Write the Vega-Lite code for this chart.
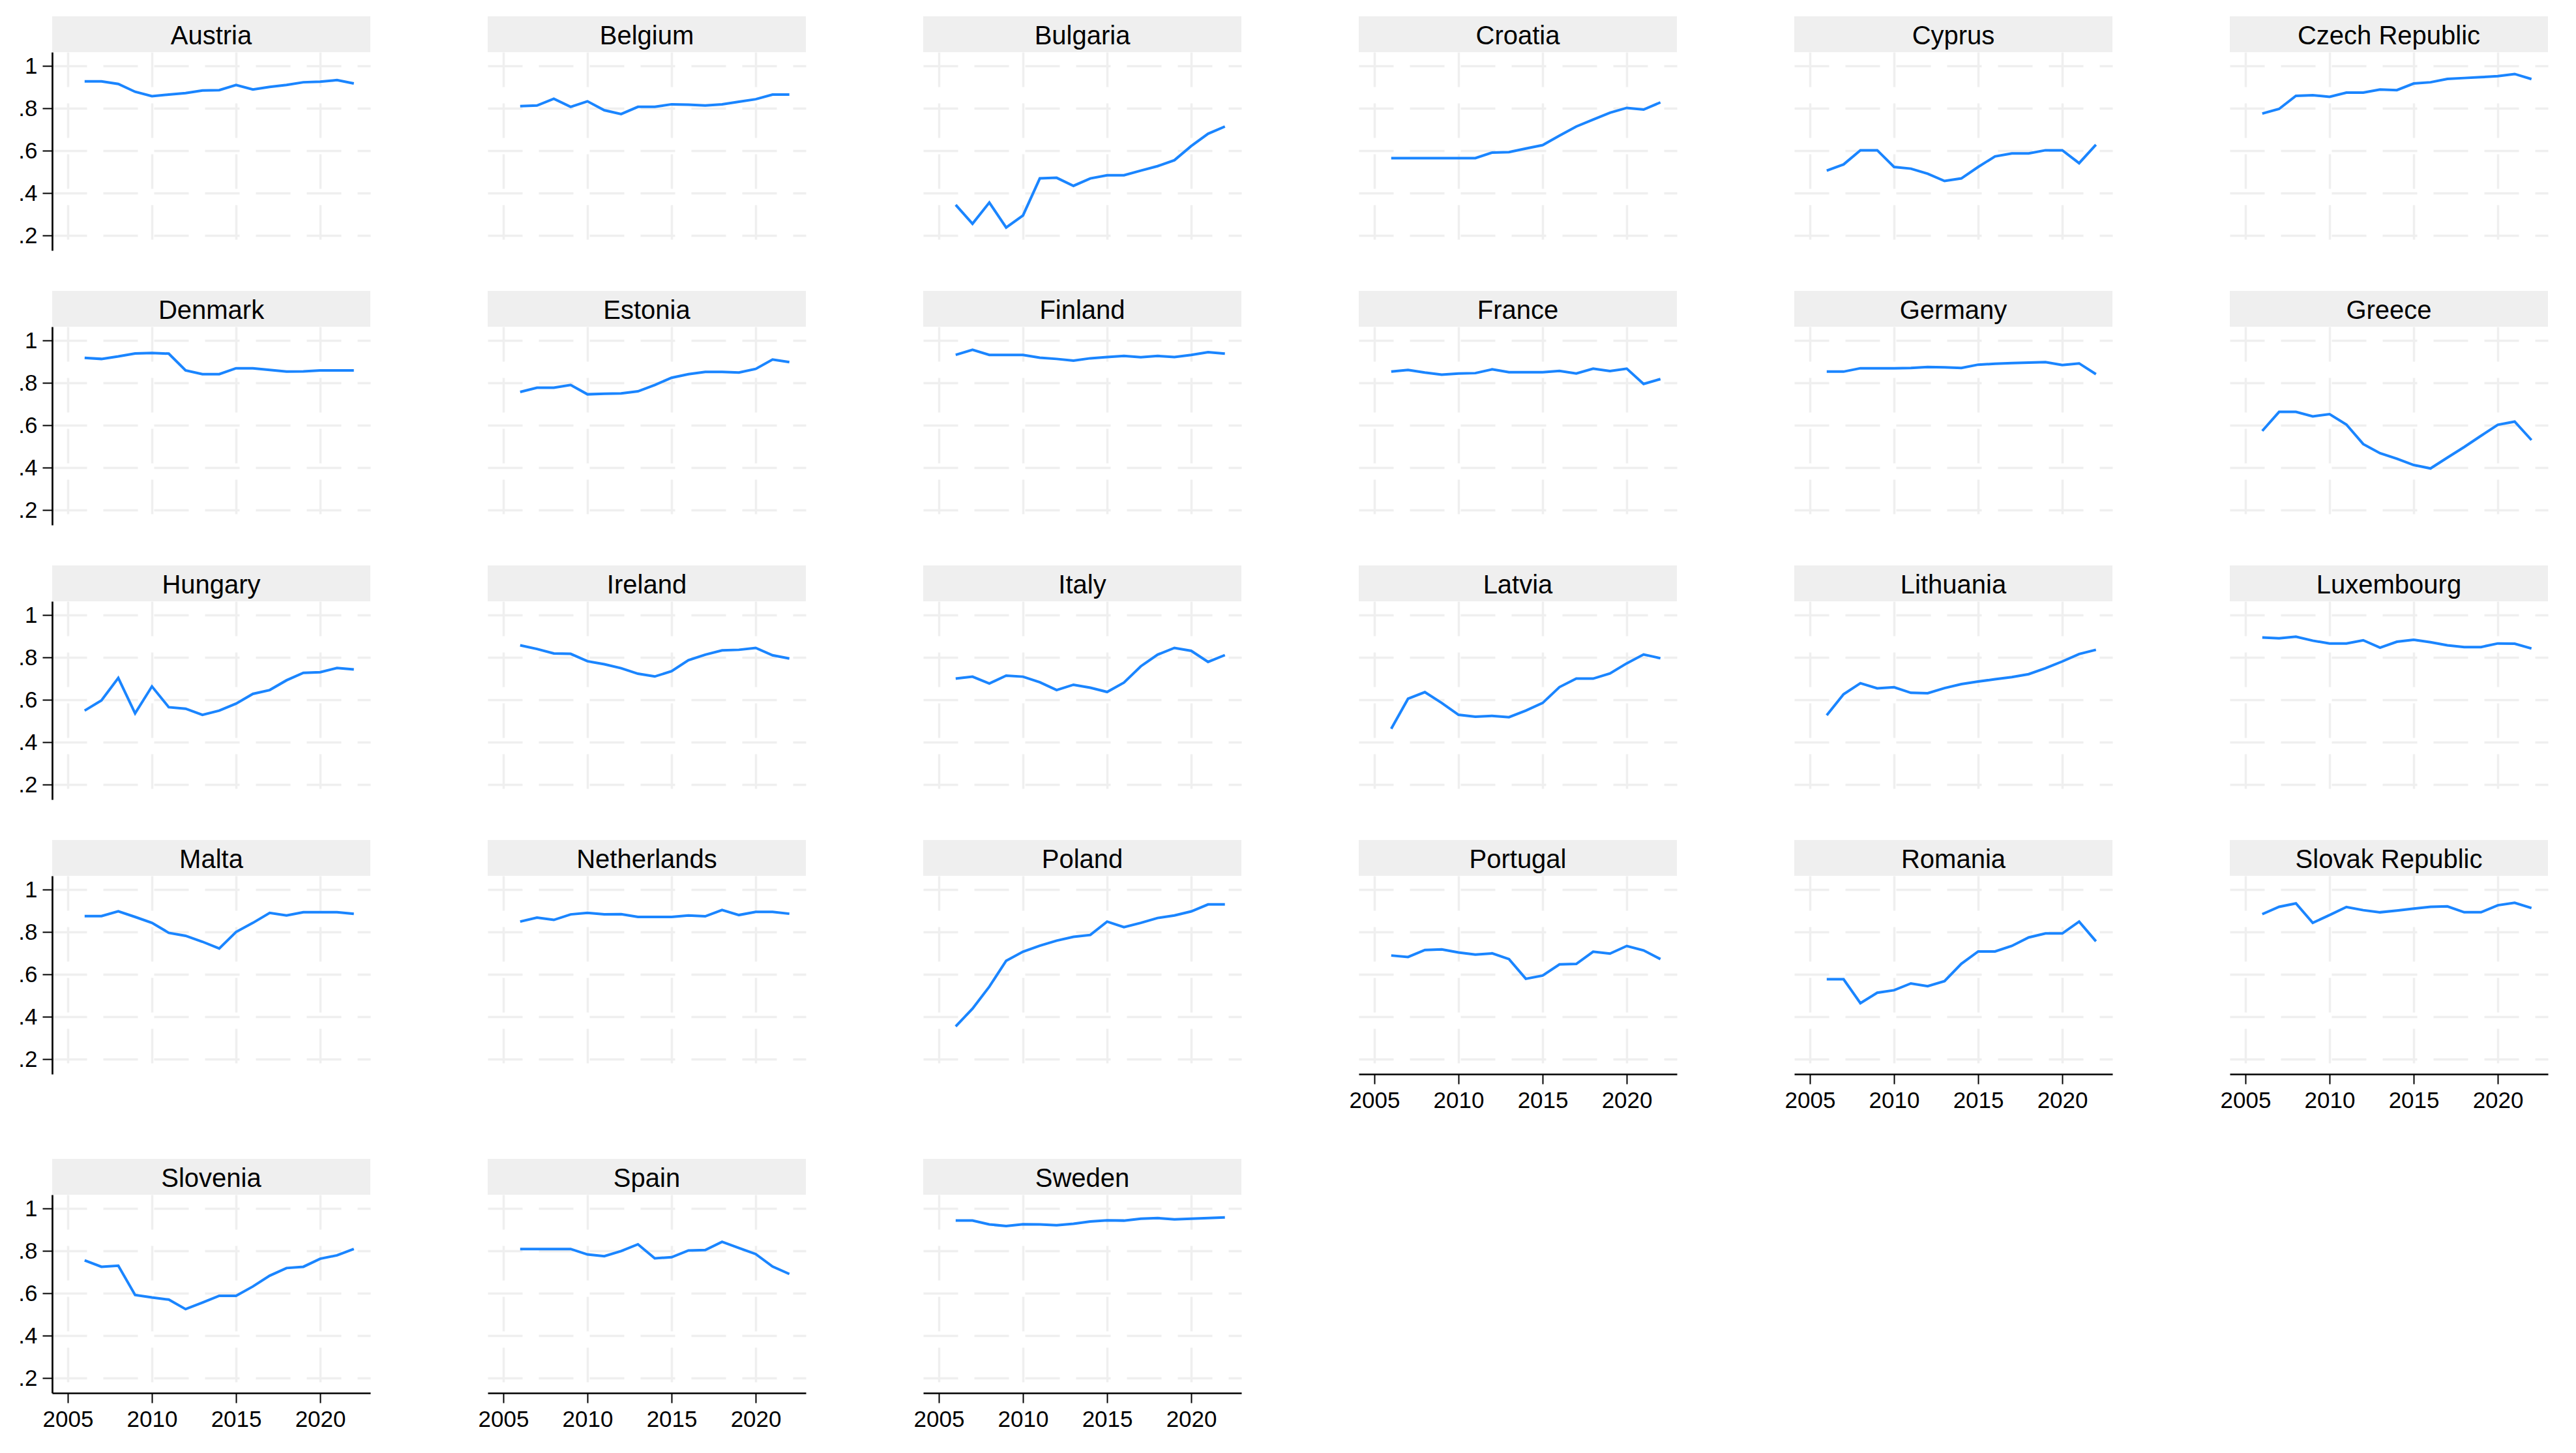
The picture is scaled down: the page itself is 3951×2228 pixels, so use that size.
{
"$schema": "https://vega.github.io/schema/vega-lite/v6.json",
"background": "white",
"padding": {"left": 27, "top": 25, "right": 10, "bottom": 10},
"autosize": {"type": "pad"},
"datasets": {"d": [
{"country":"Austria","year":2006,"value":0.928},{"country":"Austria","year":2007,"value":0.928},{"country":"Austria","year":2008,"value":0.916},{"country":"Austria","year":2009,"value":0.879},{"country":"Austria","year":2010,"value":0.858},{"country":"Austria","year":2011,"value":0.866},{"country":"Austria","year":2012,"value":0.873},{"country":"Austria","year":2013,"value":0.885},{"country":"Austria","year":2014,"value":0.887},{"country":"Austria","year":2015,"value":0.911},{"country":"Austria","year":2016,"value":0.890},{"country":"Austria","year":2017,"value":0.902},{"country":"Austria","year":2018,"value":0.911},{"country":"Austria","year":2019,"value":0.924},{"country":"Austria","year":2020,"value":0.927},{"country":"Austria","year":2021,"value":0.934},{"country":"Austria","year":2022,"value":0.918},
{"country":"Belgium","year":2006,"value":0.811},{"country":"Belgium","year":2007,"value":0.814},{"country":"Belgium","year":2008,"value":0.846},{"country":"Belgium","year":2009,"value":0.808},{"country":"Belgium","year":2010,"value":0.834},{"country":"Belgium","year":2011,"value":0.792},{"country":"Belgium","year":2012,"value":0.774},{"country":"Belgium","year":2013,"value":0.808},{"country":"Belgium","year":2014,"value":0.808},{"country":"Belgium","year":2015,"value":0.820},{"country":"Belgium","year":2016,"value":0.818},{"country":"Belgium","year":2017,"value":0.814},{"country":"Belgium","year":2018,"value":0.820},{"country":"Belgium","year":2019,"value":0.832},{"country":"Belgium","year":2020,"value":0.844},{"country":"Belgium","year":2021,"value":0.866},{"country":"Belgium","year":2022,"value":0.866},
{"country":"Bulgaria","year":2006,"value":0.345},{"country":"Bulgaria","year":2007,"value":0.256},{"country":"Bulgaria","year":2008,"value":0.356},{"country":"Bulgaria","year":2009,"value":0.238},{"country":"Bulgaria","year":2010,"value":0.295},{"country":"Bulgaria","year":2011,"value":0.470},{"country":"Bulgaria","year":2012,"value":0.473},{"country":"Bulgaria","year":2013,"value":0.435},{"country":"Bulgaria","year":2014,"value":0.470},{"country":"Bulgaria","year":2015,"value":0.485},{"country":"Bulgaria","year":2016,"value":0.485},{"country":"Bulgaria","year":2017,"value":0.507},{"country":"Bulgaria","year":2018,"value":0.528},{"country":"Bulgaria","year":2019,"value":0.556},{"country":"Bulgaria","year":2020,"value":0.623},{"country":"Bulgaria","year":2021,"value":0.681},{"country":"Bulgaria","year":2022,"value":0.715},
{"country":"Croatia","year":2006,"value":0.566},{"country":"Croatia","year":2007,"value":0.566},{"country":"Croatia","year":2008,"value":0.566},{"country":"Croatia","year":2009,"value":0.566},{"country":"Croatia","year":2010,"value":0.566},{"country":"Croatia","year":2011,"value":0.566},{"country":"Croatia","year":2012,"value":0.592},{"country":"Croatia","year":2013,"value":0.594},{"country":"Croatia","year":2014,"value":0.611},{"country":"Croatia","year":2015,"value":0.627},{"country":"Croatia","year":2016,"value":0.672},{"country":"Croatia","year":2017,"value":0.715},{"country":"Croatia","year":2018,"value":0.748},{"country":"Croatia","year":2019,"value":0.780},{"country":"Croatia","year":2020,"value":0.803},{"country":"Croatia","year":2021,"value":0.795},{"country":"Croatia","year":2022,"value":0.829},
{"country":"Cyprus","year":2006,"value":0.507},{"country":"Cyprus","year":2007,"value":0.536},{"country":"Cyprus","year":2008,"value":0.603},{"country":"Cyprus","year":2009,"value":0.603},{"country":"Cyprus","year":2010,"value":0.524},{"country":"Cyprus","year":2011,"value":0.516},{"country":"Cyprus","year":2012,"value":0.492},{"country":"Cyprus","year":2013,"value":0.458},{"country":"Cyprus","year":2014,"value":0.470},{"country":"Cyprus","year":2015,"value":0.524},{"country":"Cyprus","year":2016,"value":0.574},{"country":"Cyprus","year":2017,"value":0.588},{"country":"Cyprus","year":2018,"value":0.588},{"country":"Cyprus","year":2019,"value":0.603},{"country":"Cyprus","year":2020,"value":0.603},{"country":"Cyprus","year":2021,"value":0.542},{"country":"Cyprus","year":2022,"value":0.629},
{"country":"Czech Republic","year":2006,"value":0.776},{"country":"Czech Republic","year":2007,"value":0.798},{"country":"Czech Republic","year":2008,"value":0.860},{"country":"Czech Republic","year":2009,"value":0.863},{"country":"Czech Republic","year":2010,"value":0.855},{"country":"Czech Republic","year":2011,"value":0.875},{"country":"Czech Republic","year":2012,"value":0.875},{"country":"Czech Republic","year":2013,"value":0.890},{"country":"Czech Republic","year":2014,"value":0.887},{"country":"Czech Republic","year":2015,"value":0.918},{"country":"Czech Republic","year":2016,"value":0.924},{"country":"Czech Republic","year":2017,"value":0.940},{"country":"Czech Republic","year":2018,"value":0.944},{"country":"Czech Republic","year":2019,"value":0.948},{"country":"Czech Republic","year":2020,"value":0.953},{"country":"Czech Republic","year":2021,"value":0.963},{"country":"Czech Republic","year":2022,"value":0.939},
{"country":"Denmark","year":2006,"value":0.919},{"country":"Denmark","year":2007,"value":0.914},{"country":"Denmark","year":2008,"value":0.926},{"country":"Denmark","year":2009,"value":0.940},{"country":"Denmark","year":2010,"value":0.942},{"country":"Denmark","year":2011,"value":0.939},{"country":"Denmark","year":2012,"value":0.860},{"country":"Denmark","year":2013,"value":0.842},{"country":"Denmark","year":2014,"value":0.842},{"country":"Denmark","year":2015,"value":0.870},{"country":"Denmark","year":2016,"value":0.870},{"country":"Denmark","year":2017,"value":0.862},{"country":"Denmark","year":2018,"value":0.854},{"country":"Denmark","year":2019,"value":0.855},{"country":"Denmark","year":2020,"value":0.860},{"country":"Denmark","year":2021,"value":0.860},{"country":"Denmark","year":2022,"value":0.860},
{"country":"Estonia","year":2006,"value":0.758},{"country":"Estonia","year":2007,"value":0.778},{"country":"Estonia","year":2008,"value":0.778},{"country":"Estonia","year":2009,"value":0.791},{"country":"Estonia","year":2010,"value":0.747},{"country":"Estonia","year":2011,"value":0.750},{"country":"Estonia","year":2012,"value":0.751},{"country":"Estonia","year":2013,"value":0.761},{"country":"Estonia","year":2014,"value":0.791},{"country":"Estonia","year":2015,"value":0.825},{"country":"Estonia","year":2016,"value":0.842},{"country":"Estonia","year":2017,"value":0.853},{"country":"Estonia","year":2018,"value":0.853},{"country":"Estonia","year":2019,"value":0.850},{"country":"Estonia","year":2020,"value":0.867},{"country":"Estonia","year":2021,"value":0.911},{"country":"Estonia","year":2022,"value":0.899},
{"country":"Finland","year":2006,"value":0.933},{"country":"Finland","year":2007,"value":0.957},{"country":"Finland","year":2008,"value":0.933},{"country":"Finland","year":2009,"value":0.933},{"country":"Finland","year":2010,"value":0.933},{"country":"Finland","year":2011,"value":0.920},{"country":"Finland","year":2012,"value":0.914},{"country":"Finland","year":2013,"value":0.906},{"country":"Finland","year":2014,"value":0.917},{"country":"Finland","year":2015,"value":0.923},{"country":"Finland","year":2016,"value":0.928},{"country":"Finland","year":2017,"value":0.922},{"country":"Finland","year":2018,"value":0.928},{"country":"Finland","year":2019,"value":0.923},{"country":"Finland","year":2020,"value":0.933},{"country":"Finland","year":2021,"value":0.946},{"country":"Finland","year":2022,"value":0.939},
{"country":"France","year":2006,"value":0.854},{"country":"France","year":2007,"value":0.862},{"country":"France","year":2008,"value":0.850},{"country":"France","year":2009,"value":0.840},{"country":"France","year":2010,"value":0.845},{"country":"France","year":2011,"value":0.847},{"country":"France","year":2012,"value":0.865},{"country":"France","year":2013,"value":0.851},{"country":"France","year":2014,"value":0.851},{"country":"France","year":2015,"value":0.851},{"country":"France","year":2016,"value":0.857},{"country":"France","year":2017,"value":0.845},{"country":"France","year":2018,"value":0.868},{"country":"France","year":2019,"value":0.857},{"country":"France","year":2020,"value":0.868},{"country":"France","year":2021,"value":0.796},{"country":"France","year":2022,"value":0.819},
{"country":"Germany","year":2006,"value":0.854},{"country":"Germany","year":2007,"value":0.854},{"country":"Germany","year":2008,"value":0.870},{"country":"Germany","year":2009,"value":0.870},{"country":"Germany","year":2010,"value":0.870},{"country":"Germany","year":2011,"value":0.871},{"country":"Germany","year":2012,"value":0.876},{"country":"Germany","year":2013,"value":0.874},{"country":"Germany","year":2014,"value":0.871},{"country":"Germany","year":2015,"value":0.887},{"country":"Germany","year":2016,"value":0.891},{"country":"Germany","year":2017,"value":0.894},{"country":"Germany","year":2018,"value":0.897},{"country":"Germany","year":2019,"value":0.899},{"country":"Germany","year":2020,"value":0.885},{"country":"Germany","year":2021,"value":0.893},{"country":"Germany","year":2022,"value":0.842},
{"country":"Greece","year":2006,"value":0.574},{"country":"Greece","year":2007,"value":0.664},{"country":"Greece","year":2008,"value":0.664},{"country":"Greece","year":2009,"value":0.643},{"country":"Greece","year":2010,"value":0.653},{"country":"Greece","year":2011,"value":0.604},{"country":"Greece","year":2012,"value":0.512},{"country":"Greece","year":2013,"value":0.469},{"country":"Greece","year":2014,"value":0.443},{"country":"Greece","year":2015,"value":0.413},{"country":"Greece","year":2016,"value":0.397},{"country":"Greece","year":2017,"value":0.448},{"country":"Greece","year":2018,"value":0.498},{"country":"Greece","year":2019,"value":0.551},{"country":"Greece","year":2020,"value":0.603},{"country":"Greece","year":2021,"value":0.618},{"country":"Greece","year":2022,"value":0.531},
{"country":"Hungary","year":2006,"value":0.550},{"country":"Hungary","year":2007,"value":0.598},{"country":"Hungary","year":2008,"value":0.704},{"country":"Hungary","year":2009,"value":0.537},{"country":"Hungary","year":2010,"value":0.664},{"country":"Hungary","year":2011,"value":0.566},{"country":"Hungary","year":2012,"value":0.559},{"country":"Hungary","year":2013,"value":0.530},{"country":"Hungary","year":2014,"value":0.550},{"country":"Hungary","year":2015,"value":0.583},{"country":"Hungary","year":2016,"value":0.629},{"country":"Hungary","year":2017,"value":0.647},{"country":"Hungary","year":2018,"value":0.693},{"country":"Hungary","year":2019,"value":0.728},{"country":"Hungary","year":2020,"value":0.731},{"country":"Hungary","year":2021,"value":0.751},{"country":"Hungary","year":2022,"value":0.744},
{"country":"Ireland","year":2006,"value":0.858},{"country":"Ireland","year":2007,"value":0.841},{"country":"Ireland","year":2008,"value":0.820},{"country":"Ireland","year":2009,"value":0.818},{"country":"Ireland","year":2010,"value":0.783},{"country":"Ireland","year":2011,"value":0.769},{"country":"Ireland","year":2012,"value":0.750},{"country":"Ireland","year":2013,"value":0.724},{"country":"Ireland","year":2014,"value":0.711},{"country":"Ireland","year":2015,"value":0.736},{"country":"Ireland","year":2016,"value":0.788},{"country":"Ireland","year":2017,"value":0.814},{"country":"Ireland","year":2018,"value":0.834},{"country":"Ireland","year":2019,"value":0.837},{"country":"Ireland","year":2020,"value":0.846},{"country":"Ireland","year":2021,"value":0.811},{"country":"Ireland","year":2022,"value":0.796},
{"country":"Italy","year":2006,"value":0.701},{"country":"Italy","year":2007,"value":0.710},{"country":"Italy","year":2008,"value":0.678},{"country":"Italy","year":2009,"value":0.715},{"country":"Italy","year":2010,"value":0.710},{"country":"Italy","year":2011,"value":0.684},{"country":"Italy","year":2012,"value":0.647},{"country":"Italy","year":2013,"value":0.672},{"country":"Italy","year":2014,"value":0.658},{"country":"Italy","year":2015,"value":0.638},{"country":"Italy","year":2016,"value":0.682},{"country":"Italy","year":2017,"value":0.759},{"country":"Italy","year":2018,"value":0.814},{"country":"Italy","year":2019,"value":0.846},{"country":"Italy","year":2020,"value":0.832},{"country":"Italy","year":2021,"value":0.780},{"country":"Italy","year":2022,"value":0.812},
{"country":"Latvia","year":2006,"value":0.464},{"country":"Latvia","year":2007,"value":0.606},{"country":"Latvia","year":2008,"value":0.637},{"country":"Latvia","year":2009,"value":0.586},{"country":"Latvia","year":2010,"value":0.530},{"country":"Latvia","year":2011,"value":0.521},{"country":"Latvia","year":2012,"value":0.525},{"country":"Latvia","year":2013,"value":0.519},{"country":"Latvia","year":2014,"value":0.550},{"country":"Latvia","year":2015,"value":0.586},{"country":"Latvia","year":2016,"value":0.661},{"country":"Latvia","year":2017,"value":0.701},{"country":"Latvia","year":2018,"value":0.701},{"country":"Latvia","year":2019,"value":0.725},{"country":"Latvia","year":2020,"value":0.773},{"country":"Latvia","year":2021,"value":0.815},{"country":"Latvia","year":2022,"value":0.797},
{"country":"Lithuania","year":2006,"value":0.528},{"country":"Lithuania","year":2007,"value":0.627},{"country":"Lithuania","year":2008,"value":0.679},{"country":"Lithuania","year":2009,"value":0.655},{"country":"Lithuania","year":2010,"value":0.660},{"country":"Lithuania","year":2011,"value":0.634},{"country":"Lithuania","year":2012,"value":0.632},{"country":"Lithuania","year":2013,"value":0.656},{"country":"Lithuania","year":2014,"value":0.675},{"country":"Lithuania","year":2015,"value":0.687},{"country":"Lithuania","year":2016,"value":0.698},{"country":"Lithuania","year":2017,"value":0.708},{"country":"Lithuania","year":2018,"value":0.722},{"country":"Lithuania","year":2019,"value":0.750},{"country":"Lithuania","year":2020,"value":0.782},{"country":"Lithuania","year":2021,"value":0.817},{"country":"Lithuania","year":2022,"value":0.837},
{"country":"Luxembourg","year":2006,"value":0.895},{"country":"Luxembourg","year":2007,"value":0.891},{"country":"Luxembourg","year":2008,"value":0.899},{"country":"Luxembourg","year":2009,"value":0.880},{"country":"Luxembourg","year":2010,"value":0.867},{"country":"Luxembourg","year":2011,"value":0.867},{"country":"Luxembourg","year":2012,"value":0.882},{"country":"Luxembourg","year":2013,"value":0.847},{"country":"Luxembourg","year":2014,"value":0.875},{"country":"Luxembourg","year":2015,"value":0.884},{"country":"Luxembourg","year":2016,"value":0.873},{"country":"Luxembourg","year":2017,"value":0.858},{"country":"Luxembourg","year":2018,"value":0.850},{"country":"Luxembourg","year":2019,"value":0.850},{"country":"Luxembourg","year":2020,"value":0.867},{"country":"Luxembourg","year":2021,"value":0.866},{"country":"Luxembourg","year":2022,"value":0.843},
{"country":"Malta","year":2006,"value":0.876},{"country":"Malta","year":2007,"value":0.876},{"country":"Malta","year":2008,"value":0.899},{"country":"Malta","year":2009,"value":0.872},{"country":"Malta","year":2010,"value":0.844},{"country":"Malta","year":2011,"value":0.797},{"country":"Malta","year":2012,"value":0.783},{"country":"Malta","year":2013,"value":0.755},{"country":"Malta","year":2014,"value":0.723},{"country":"Malta","year":2015,"value":0.801},{"country":"Malta","year":2016,"value":0.844},{"country":"Malta","year":2017,"value":0.891},{"country":"Malta","year":2018,"value":0.879},{"country":"Malta","year":2019,"value":0.894},{"country":"Malta","year":2020,"value":0.894},{"country":"Malta","year":2021,"value":0.894},{"country":"Malta","year":2022,"value":0.887},
{"country":"Netherlands","year":2006,"value":0.850},{"country":"Netherlands","year":2007,"value":0.869},{"country":"Netherlands","year":2008,"value":0.858},{"country":"Netherlands","year":2009,"value":0.884},{"country":"Netherlands","year":2010,"value":0.891},{"country":"Netherlands","year":2011,"value":0.884},{"country":"Netherlands","year":2012,"value":0.885},{"country":"Netherlands","year":2013,"value":0.872},{"country":"Netherlands","year":2014,"value":0.872},{"country":"Netherlands","year":2015,"value":0.872},{"country":"Netherlands","year":2016,"value":0.879},{"country":"Netherlands","year":2017,"value":0.875},{"country":"Netherlands","year":2018,"value":0.905},{"country":"Netherlands","year":2019,"value":0.881},{"country":"Netherlands","year":2020,"value":0.896},{"country":"Netherlands","year":2021,"value":0.896},{"country":"Netherlands","year":2022,"value":0.887},
{"country":"Poland","year":2006,"value":0.355},{"country":"Poland","year":2007,"value":0.439},{"country":"Poland","year":2008,"value":0.543},{"country":"Poland","year":2009,"value":0.665},{"country":"Poland","year":2010,"value":0.708},{"country":"Poland","year":2011,"value":0.736},{"country":"Poland","year":2012,"value":0.760},{"country":"Poland","year":2013,"value":0.778},{"country":"Poland","year":2014,"value":0.787},{"country":"Poland","year":2015,"value":0.850},{"country":"Poland","year":2016,"value":0.824},{"country":"Poland","year":2017,"value":0.844},{"country":"Poland","year":2018,"value":0.867},{"country":"Poland","year":2019,"value":0.879},{"country":"Poland","year":2020,"value":0.898},{"country":"Poland","year":2021,"value":0.931},{"country":"Poland","year":2022,"value":0.931},
{"country":"Portugal","year":2006,"value":0.690},{"country":"Portugal","year":2007,"value":0.683},{"country":"Portugal","year":2008,"value":0.716},{"country":"Portugal","year":2009,"value":0.719},{"country":"Portugal","year":2010,"value":0.704},{"country":"Portugal","year":2011,"value":0.694},{"country":"Portugal","year":2012,"value":0.700},{"country":"Portugal","year":2013,"value":0.673},{"country":"Portugal","year":2014,"value":0.580},{"country":"Portugal","year":2015,"value":0.595},{"country":"Portugal","year":2016,"value":0.648},{"country":"Portugal","year":2017,"value":0.650},{"country":"Portugal","year":2018,"value":0.708},{"country":"Portugal","year":2019,"value":0.699},{"country":"Portugal","year":2020,"value":0.735},{"country":"Portugal","year":2021,"value":0.714},{"country":"Portugal","year":2022,"value":0.673},
{"country":"Romania","year":2006,"value":0.578},{"country":"Romania","year":2007,"value":0.578},{"country":"Romania","year":2008,"value":0.465},{"country":"Romania","year":2009,"value":0.514},{"country":"Romania","year":2010,"value":0.526},{"country":"Romania","year":2011,"value":0.558},{"country":"Romania","year":2012,"value":0.545},{"country":"Romania","year":2013,"value":0.569},{"country":"Romania","year":2014,"value":0.651},{"country":"Romania","year":2015,"value":0.709},{"country":"Romania","year":2016,"value":0.709},{"country":"Romania","year":2017,"value":0.735},{"country":"Romania","year":2018,"value":0.775},{"country":"Romania","year":2019,"value":0.794},{"country":"Romania","year":2020,"value":0.794},{"country":"Romania","year":2021,"value":0.850},{"country":"Romania","year":2022,"value":0.757},
{"country":"Slovak Republic","year":2006,"value":0.885},{"country":"Slovak Republic","year":2007,"value":0.920},{"country":"Slovak Republic","year":2008,"value":0.936},{"country":"Slovak Republic","year":2009,"value":0.844},{"country":"Slovak Republic","year":2010,"value":0.881},{"country":"Slovak Republic","year":2011,"value":0.919},{"country":"Slovak Republic","year":2012,"value":0.904},{"country":"Slovak Republic","year":2013,"value":0.894},{"country":"Slovak Republic","year":2014,"value":0.902},{"country":"Slovak Republic","year":2015,"value":0.911},{"country":"Slovak Republic","year":2016,"value":0.920},{"country":"Slovak Republic","year":2017,"value":0.922},{"country":"Slovak Republic","year":2018,"value":0.894},{"country":"Slovak Republic","year":2019,"value":0.894},{"country":"Slovak Republic","year":2020,"value":0.927},{"country":"Slovak Republic","year":2021,"value":0.939},{"country":"Slovak Republic","year":2022,"value":0.914},
{"country":"Slovenia","year":2006,"value":0.756},{"country":"Slovenia","year":2007,"value":0.726},{"country":"Slovenia","year":2008,"value":0.731},{"country":"Slovenia","year":2009,"value":0.593},{"country":"Slovenia","year":2010,"value":0.581},{"country":"Slovenia","year":2011,"value":0.571},{"country":"Slovenia","year":2012,"value":0.526},{"country":"Slovenia","year":2013,"value":0.557},{"country":"Slovenia","year":2014,"value":0.589},{"country":"Slovenia","year":2015,"value":0.589},{"country":"Slovenia","year":2016,"value":0.633},{"country":"Slovenia","year":2017,"value":0.684},{"country":"Slovenia","year":2018,"value":0.720},{"country":"Slovenia","year":2019,"value":0.726},{"country":"Slovenia","year":2020,"value":0.764},{"country":"Slovenia","year":2021,"value":0.780},{"country":"Slovenia","year":2022,"value":0.810},
{"country":"Spain","year":2006,"value":0.810},{"country":"Spain","year":2007,"value":0.810},{"country":"Spain","year":2008,"value":0.810},{"country":"Spain","year":2009,"value":0.810},{"country":"Spain","year":2010,"value":0.784},{"country":"Spain","year":2011,"value":0.776},{"country":"Spain","year":2012,"value":0.800},{"country":"Spain","year":2013,"value":0.832},{"country":"Spain","year":2014,"value":0.766},{"country":"Spain","year":2015,"value":0.771},{"country":"Spain","year":2016,"value":0.803},{"country":"Spain","year":2017,"value":0.805},{"country":"Spain","year":2018,"value":0.844},{"country":"Spain","year":2019,"value":0.815},{"country":"Spain","year":2020,"value":0.786},{"country":"Spain","year":2021,"value":0.727},{"country":"Spain","year":2022,"value":0.692},
{"country":"Sweden","year":2006,"value":0.944},{"country":"Sweden","year":2007,"value":0.944},{"country":"Sweden","year":2008,"value":0.926},{"country":"Sweden","year":2009,"value":0.918},{"country":"Sweden","year":2010,"value":0.927},{"country":"Sweden","year":2011,"value":0.926},{"country":"Sweden","year":2012,"value":0.922},{"country":"Sweden","year":2013,"value":0.929},{"country":"Sweden","year":2014,"value":0.940},{"country":"Sweden","year":2015,"value":0.945},{"country":"Sweden","year":2016,"value":0.944},{"country":"Sweden","year":2017,"value":0.953},{"country":"Sweden","year":2018,"value":0.956},{"country":"Sweden","year":2019,"value":0.950},{"country":"Sweden","year":2020,"value":0.953},{"country":"Sweden","year":2021,"value":0.956},{"country":"Sweden","year":2022,"value":0.959}
]},
"columns": 6,
"bounds": "flush",
"align": "each",
"spacing": {"row": 0, "column": 180},
"concat": [
{"width":488,"height":55,"view":{"fill":"#efefef","stroke":null},"data":{"values":[{"country":"Austria"}]},"mark":{"type":"text","font":"Liberation Sans","fontSize":40,"color":"#000","align":"center","baseline":"middle","dy":3},"encoding":{"text":{"field":"country"}}},
{"width":488,"height":55,"view":{"fill":"#efefef","stroke":null},"data":{"values":[{"country":"Belgium"}]},"mark":{"type":"text","font":"Liberation Sans","fontSize":40,"color":"#000","align":"center","baseline":"middle","dy":3},"encoding":{"text":{"field":"country"}}},
{"width":488,"height":55,"view":{"fill":"#efefef","stroke":null},"data":{"values":[{"country":"Bulgaria"}]},"mark":{"type":"text","font":"Liberation Sans","fontSize":40,"color":"#000","align":"center","baseline":"middle","dy":3},"encoding":{"text":{"field":"country"}}},
{"width":488,"height":55,"view":{"fill":"#efefef","stroke":null},"data":{"values":[{"country":"Croatia"}]},"mark":{"type":"text","font":"Liberation Sans","fontSize":40,"color":"#000","align":"center","baseline":"middle","dy":3},"encoding":{"text":{"field":"country"}}},
{"width":488,"height":55,"view":{"fill":"#efefef","stroke":null},"data":{"values":[{"country":"Cyprus"}]},"mark":{"type":"text","font":"Liberation Sans","fontSize":40,"color":"#000","align":"center","baseline":"middle","dy":3},"encoding":{"text":{"field":"country"}}},
{"width":488,"height":55,"view":{"fill":"#efefef","stroke":null},"data":{"values":[{"country":"Czech Republic"}]},"mark":{"type":"text","font":"Liberation Sans","fontSize":40,"color":"#000","align":"center","baseline":"middle","dy":3},"encoding":{"text":{"field":"country"}}},
{"width":488,"height":304,"data":{"name":"d"},"transform":[{"filter":"datum.country === 'Austria'"}],"mark":{"type":"line","color":"#1a85ff","strokeWidth":4},"encoding":{"x":{"field":"year","type":"quantitative","scale":{"domain":[2004.07,2022.98],"nice":false,"zero":false},"axis":{"title":null,"values":[2005,2010,2015,2020],"labels":false,"ticks":false,"domain":false}},"y":{"field":"value","type":"quantitative","scale":{"domain":[0.13,1.066],"nice":false,"zero":false},"axis":{"title":null,"values":[0.2,0.4,0.6,0.8,1],"labelExpr":"datum.value > 0.99 ? '1' : '.' + round(datum.value*10)"}}}},
{"width":488,"height":304,"data":{"name":"d"},"transform":[{"filter":"datum.country === 'Belgium'"}],"mark":{"type":"line","color":"#1a85ff","strokeWidth":4},"encoding":{"x":{"field":"year","type":"quantitative","scale":{"domain":[2004.07,2022.98],"nice":false,"zero":false},"axis":{"title":null,"values":[2005,2010,2015,2020],"labels":false,"ticks":false,"domain":false}},"y":{"field":"value","type":"quantitative","scale":{"domain":[0.13,1.066],"nice":false,"zero":false},"axis":{"title":null,"values":[0.2,0.4,0.6,0.8,1],"labels":false,"ticks":false,"domain":false}}}},
{"width":488,"height":304,"data":{"name":"d"},"transform":[{"filter":"datum.country === 'Bulgaria'"}],"mark":{"type":"line","color":"#1a85ff","strokeWidth":4},"encoding":{"x":{"field":"year","type":"quantitative","scale":{"domain":[2004.07,2022.98],"nice":false,"zero":false},"axis":{"title":null,"values":[2005,2010,2015,2020],"labels":false,"ticks":false,"domain":false}},"y":{"field":"value","type":"quantitative","scale":{"domain":[0.13,1.066],"nice":false,"zero":false},"axis":{"title":null,"values":[0.2,0.4,0.6,0.8,1],"labels":false,"ticks":false,"domain":false}}}},
{"width":488,"height":304,"data":{"name":"d"},"transform":[{"filter":"datum.country === 'Croatia'"}],"mark":{"type":"line","color":"#1a85ff","strokeWidth":4},"encoding":{"x":{"field":"year","type":"quantitative","scale":{"domain":[2004.07,2022.98],"nice":false,"zero":false},"axis":{"title":null,"values":[2005,2010,2015,2020],"labels":false,"ticks":false,"domain":false}},"y":{"field":"value","type":"quantitative","scale":{"domain":[0.13,1.066],"nice":false,"zero":false},"axis":{"title":null,"values":[0.2,0.4,0.6,0.8,1],"labels":false,"ticks":false,"domain":false}}}},
{"width":488,"height":304,"data":{"name":"d"},"transform":[{"filter":"datum.country === 'Cyprus'"}],"mark":{"type":"line","color":"#1a85ff","strokeWidth":4},"encoding":{"x":{"field":"year","type":"quantitative","scale":{"domain":[2004.07,2022.98],"nice":false,"zero":false},"axis":{"title":null,"values":[2005,2010,2015,2020],"labels":false,"ticks":false,"domain":false}},"y":{"field":"value","type":"quantitative","scale":{"domain":[0.13,1.066],"nice":false,"zero":false},"axis":{"title":null,"values":[0.2,0.4,0.6,0.8,1],"labels":false,"ticks":false,"domain":false}}}},
{"width":488,"height":304,"data":{"name":"d"},"transform":[{"filter":"datum.country === 'Czech Republic'"}],"mark":{"type":"line","color":"#1a85ff","strokeWidth":4},"encoding":{"x":{"field":"year","type":"quantitative","scale":{"domain":[2004.07,2022.98],"nice":false,"zero":false},"axis":{"title":null,"values":[2005,2010,2015,2020],"labels":false,"ticks":false,"domain":false}},"y":{"field":"value","type":"quantitative","scale":{"domain":[0.13,1.066],"nice":false,"zero":false},"axis":{"title":null,"values":[0.2,0.4,0.6,0.8,1],"labels":false,"ticks":false,"domain":false}}}},
{"width":488,"height":62,"data":{"values":[{}]},"mark":"text","encoding":{"text":{"value":""}}},
{"width":488,"height":62,"data":{"values":[{}]},"mark":"text","encoding":{"text":{"value":""}}},
{"width":488,"height":62,"data":{"values":[{}]},"mark":"text","encoding":{"text":{"value":""}}},
{"width":488,"height":62,"data":{"values":[{}]},"mark":"text","encoding":{"text":{"value":""}}},
{"width":488,"height":62,"data":{"values":[{}]},"mark":"text","encoding":{"text":{"value":""}}},
{"width":488,"height":62,"data":{"values":[{}]},"mark":"text","encoding":{"text":{"value":""}}},
{"width":488,"height":55,"view":{"fill":"#efefef","stroke":null},"data":{"values":[{"country":"Denmark"}]},"mark":{"type":"text","font":"Liberation Sans","fontSize":40,"color":"#000","align":"center","baseline":"middle","dy":3},"encoding":{"text":{"field":"country"}}},
{"width":488,"height":55,"view":{"fill":"#efefef","stroke":null},"data":{"values":[{"country":"Estonia"}]},"mark":{"type":"text","font":"Liberation Sans","fontSize":40,"color":"#000","align":"center","baseline":"middle","dy":3},"encoding":{"text":{"field":"country"}}},
{"width":488,"height":55,"view":{"fill":"#efefef","stroke":null},"data":{"values":[{"country":"Finland"}]},"mark":{"type":"text","font":"Liberation Sans","fontSize":40,"color":"#000","align":"center","baseline":"middle","dy":3},"encoding":{"text":{"field":"country"}}},
{"width":488,"height":55,"view":{"fill":"#efefef","stroke":null},"data":{"values":[{"country":"France"}]},"mark":{"type":"text","font":"Liberation Sans","fontSize":40,"color":"#000","align":"center","baseline":"middle","dy":3},"encoding":{"text":{"field":"country"}}},
{"width":488,"height":55,"view":{"fill":"#efefef","stroke":null},"data":{"values":[{"country":"Germany"}]},"mark":{"type":"text","font":"Liberation Sans","fontSize":40,"color":"#000","align":"center","baseline":"middle","dy":3},"encoding":{"text":{"field":"country"}}},
{"width":488,"height":55,"view":{"fill":"#efefef","stroke":null},"data":{"values":[{"country":"Greece"}]},"mark":{"type":"text","font":"Liberation Sans","fontSize":40,"color":"#000","align":"center","baseline":"middle","dy":3},"encoding":{"text":{"field":"country"}}},
{"width":488,"height":304,"data":{"name":"d"},"transform":[{"filter":"datum.country === 'Denmark'"}],"mark":{"type":"line","color":"#1a85ff","strokeWidth":4},"encoding":{"x":{"field":"year","type":"quantitative","scale":{"domain":[2004.07,2022.98],"nice":false,"zero":false},"axis":{"title":null,"values":[2005,2010,2015,2020],"labels":false,"ticks":false,"domain":false}},"y":{"field":"value","type":"quantitative","scale":{"domain":[0.13,1.066],"nice":false,"zero":false},"axis":{"title":null,"values":[0.2,0.4,0.6,0.8,1],"labelExpr":"datum.value > 0.99 ? '1' : '.' + round(datum.value*10)"}}}},
{"width":488,"height":304,"data":{"name":"d"},"transform":[{"filter":"datum.country === 'Estonia'"}],"mark":{"type":"line","color":"#1a85ff","strokeWidth":4},"encoding":{"x":{"field":"year","type":"quantitative","scale":{"domain":[2004.07,2022.98],"nice":false,"zero":false},"axis":{"title":null,"values":[2005,2010,2015,2020],"labels":false,"ticks":false,"domain":false}},"y":{"field":"value","type":"quantitative","scale":{"domain":[0.13,1.066],"nice":false,"zero":false},"axis":{"title":null,"values":[0.2,0.4,0.6,0.8,1],"labels":false,"ticks":false,"domain":false}}}},
{"width":488,"height":304,"data":{"name":"d"},"transform":[{"filter":"datum.country === 'Finland'"}],"mark":{"type":"line","color":"#1a85ff","strokeWidth":4},"encoding":{"x":{"field":"year","type":"quantitative","scale":{"domain":[2004.07,2022.98],"nice":false,"zero":false},"axis":{"title":null,"values":[2005,2010,2015,2020],"labels":false,"ticks":false,"domain":false}},"y":{"field":"value","type":"quantitative","scale":{"domain":[0.13,1.066],"nice":false,"zero":false},"axis":{"title":null,"values":[0.2,0.4,0.6,0.8,1],"labels":false,"ticks":false,"domain":false}}}},
{"width":488,"height":304,"data":{"name":"d"},"transform":[{"filter":"datum.country === 'France'"}],"mark":{"type":"line","color":"#1a85ff","strokeWidth":4},"encoding":{"x":{"field":"year","type":"quantitative","scale":{"domain":[2004.07,2022.98],"nice":false,"zero":false},"axis":{"title":null,"values":[2005,2010,2015,2020],"labels":false,"ticks":false,"domain":false}},"y":{"field":"value","type":"quantitative","scale":{"domain":[0.13,1.066],"nice":false,"zero":false},"axis":{"title":null,"values":[0.2,0.4,0.6,0.8,1],"labels":false,"ticks":false,"domain":false}}}},
{"width":488,"height":304,"data":{"name":"d"},"transform":[{"filter":"datum.country === 'Germany'"}],"mark":{"type":"line","color":"#1a85ff","strokeWidth":4},"encoding":{"x":{"field":"year","type":"quantitative","scale":{"domain":[2004.07,2022.98],"nice":false,"zero":false},"axis":{"title":null,"values":[2005,2010,2015,2020],"labels":false,"ticks":false,"domain":false}},"y":{"field":"value","type":"quantitative","scale":{"domain":[0.13,1.066],"nice":false,"zero":false},"axis":{"title":null,"values":[0.2,0.4,0.6,0.8,1],"labels":false,"ticks":false,"domain":false}}}},
{"width":488,"height":304,"data":{"name":"d"},"transform":[{"filter":"datum.country === 'Greece'"}],"mark":{"type":"line","color":"#1a85ff","strokeWidth":4},"encoding":{"x":{"field":"year","type":"quantitative","scale":{"domain":[2004.07,2022.98],"nice":false,"zero":false},"axis":{"title":null,"values":[2005,2010,2015,2020],"labels":false,"ticks":false,"domain":false}},"y":{"field":"value","type":"quantitative","scale":{"domain":[0.13,1.066],"nice":false,"zero":false},"axis":{"title":null,"values":[0.2,0.4,0.6,0.8,1],"labels":false,"ticks":false,"domain":false}}}},
{"width":488,"height":62,"data":{"values":[{}]},"mark":"text","encoding":{"text":{"value":""}}},
{"width":488,"height":62,"data":{"values":[{}]},"mark":"text","encoding":{"text":{"value":""}}},
{"width":488,"height":62,"data":{"values":[{}]},"mark":"text","encoding":{"text":{"value":""}}},
{"width":488,"height":62,"data":{"values":[{}]},"mark":"text","encoding":{"text":{"value":""}}},
{"width":488,"height":62,"data":{"values":[{}]},"mark":"text","encoding":{"text":{"value":""}}},
{"width":488,"height":62,"data":{"values":[{}]},"mark":"text","encoding":{"text":{"value":""}}},
{"width":488,"height":55,"view":{"fill":"#efefef","stroke":null},"data":{"values":[{"country":"Hungary"}]},"mark":{"type":"text","font":"Liberation Sans","fontSize":40,"color":"#000","align":"center","baseline":"middle","dy":3},"encoding":{"text":{"field":"country"}}},
{"width":488,"height":55,"view":{"fill":"#efefef","stroke":null},"data":{"values":[{"country":"Ireland"}]},"mark":{"type":"text","font":"Liberation Sans","fontSize":40,"color":"#000","align":"center","baseline":"middle","dy":3},"encoding":{"text":{"field":"country"}}},
{"width":488,"height":55,"view":{"fill":"#efefef","stroke":null},"data":{"values":[{"country":"Italy"}]},"mark":{"type":"text","font":"Liberation Sans","fontSize":40,"color":"#000","align":"center","baseline":"middle","dy":3},"encoding":{"text":{"field":"country"}}},
{"width":488,"height":55,"view":{"fill":"#efefef","stroke":null},"data":{"values":[{"country":"Latvia"}]},"mark":{"type":"text","font":"Liberation Sans","fontSize":40,"color":"#000","align":"center","baseline":"middle","dy":3},"encoding":{"text":{"field":"country"}}},
{"width":488,"height":55,"view":{"fill":"#efefef","stroke":null},"data":{"values":[{"country":"Lithuania"}]},"mark":{"type":"text","font":"Liberation Sans","fontSize":40,"color":"#000","align":"center","baseline":"middle","dy":3},"encoding":{"text":{"field":"country"}}},
{"width":488,"height":55,"view":{"fill":"#efefef","stroke":null},"data":{"values":[{"country":"Luxembourg"}]},"mark":{"type":"text","font":"Liberation Sans","fontSize":40,"color":"#000","align":"center","baseline":"middle","dy":3},"encoding":{"text":{"field":"country"}}},
{"width":488,"height":304,"data":{"name":"d"},"transform":[{"filter":"datum.country === 'Hungary'"}],"mark":{"type":"line","color":"#1a85ff","strokeWidth":4},"encoding":{"x":{"field":"year","type":"quantitative","scale":{"domain":[2004.07,2022.98],"nice":false,"zero":false},"axis":{"title":null,"values":[2005,2010,2015,2020],"labels":false,"ticks":false,"domain":false}},"y":{"field":"value","type":"quantitative","scale":{"domain":[0.13,1.066],"nice":false,"zero":false},"axis":{"title":null,"values":[0.2,0.4,0.6,0.8,1],"labelExpr":"datum.value > 0.99 ? '1' : '.' + round(datum.value*10)"}}}},
{"width":488,"height":304,"data":{"name":"d"},"transform":[{"filter":"datum.country === 'Ireland'"}],"mark":{"type":"line","color":"#1a85ff","strokeWidth":4},"encoding":{"x":{"field":"year","type":"quantitative","scale":{"domain":[2004.07,2022.98],"nice":false,"zero":false},"axis":{"title":null,"values":[2005,2010,2015,2020],"labels":false,"ticks":false,"domain":false}},"y":{"field":"value","type":"quantitative","scale":{"domain":[0.13,1.066],"nice":false,"zero":false},"axis":{"title":null,"values":[0.2,0.4,0.6,0.8,1],"labels":false,"ticks":false,"domain":false}}}},
{"width":488,"height":304,"data":{"name":"d"},"transform":[{"filter":"datum.country === 'Italy'"}],"mark":{"type":"line","color":"#1a85ff","strokeWidth":4},"encoding":{"x":{"field":"year","type":"quantitative","scale":{"domain":[2004.07,2022.98],"nice":false,"zero":false},"axis":{"title":null,"values":[2005,2010,2015,2020],"labels":false,"ticks":false,"domain":false}},"y":{"field":"value","type":"quantitative","scale":{"domain":[0.13,1.066],"nice":false,"zero":false},"axis":{"title":null,"values":[0.2,0.4,0.6,0.8,1],"labels":false,"ticks":false,"domain":false}}}},
{"width":488,"height":304,"data":{"name":"d"},"transform":[{"filter":"datum.country === 'Latvia'"}],"mark":{"type":"line","color":"#1a85ff","strokeWidth":4},"encoding":{"x":{"field":"year","type":"quantitative","scale":{"domain":[2004.07,2022.98],"nice":false,"zero":false},"axis":{"title":null,"values":[2005,2010,2015,2020],"labels":false,"ticks":false,"domain":false}},"y":{"field":"value","type":"quantitative","scale":{"domain":[0.13,1.066],"nice":false,"zero":false},"axis":{"title":null,"values":[0.2,0.4,0.6,0.8,1],"labels":false,"ticks":false,"domain":false}}}},
{"width":488,"height":304,"data":{"name":"d"},"transform":[{"filter":"datum.country === 'Lithuania'"}],"mark":{"type":"line","color":"#1a85ff","strokeWidth":4},"encoding":{"x":{"field":"year","type":"quantitative","scale":{"domain":[2004.07,2022.98],"nice":false,"zero":false},"axis":{"title":null,"values":[2005,2010,2015,2020],"labels":false,"ticks":false,"domain":false}},"y":{"field":"value","type":"quantitative","scale":{"domain":[0.13,1.066],"nice":false,"zero":false},"axis":{"title":null,"values":[0.2,0.4,0.6,0.8,1],"labels":false,"ticks":false,"domain":false}}}},
{"width":488,"height":304,"data":{"name":"d"},"transform":[{"filter":"datum.country === 'Luxembourg'"}],"mark":{"type":"line","color":"#1a85ff","strokeWidth":4},"encoding":{"x":{"field":"year","type":"quantitative","scale":{"domain":[2004.07,2022.98],"nice":false,"zero":false},"axis":{"title":null,"values":[2005,2010,2015,2020],"labels":false,"ticks":false,"domain":false}},"y":{"field":"value","type":"quantitative","scale":{"domain":[0.13,1.066],"nice":false,"zero":false},"axis":{"title":null,"values":[0.2,0.4,0.6,0.8,1],"labels":false,"ticks":false,"domain":false}}}},
{"width":488,"height":62,"data":{"values":[{}]},"mark":"text","encoding":{"text":{"value":""}}},
{"width":488,"height":62,"data":{"values":[{}]},"mark":"text","encoding":{"text":{"value":""}}},
{"width":488,"height":62,"data":{"values":[{}]},"mark":"text","encoding":{"text":{"value":""}}},
{"width":488,"height":62,"data":{"values":[{}]},"mark":"text","encoding":{"text":{"value":""}}},
{"width":488,"height":62,"data":{"values":[{}]},"mark":"text","encoding":{"text":{"value":""}}},
{"width":488,"height":62,"data":{"values":[{}]},"mark":"text","encoding":{"text":{"value":""}}},
{"width":488,"height":55,"view":{"fill":"#efefef","stroke":null},"data":{"values":[{"country":"Malta"}]},"mark":{"type":"text","font":"Liberation Sans","fontSize":40,"color":"#000","align":"center","baseline":"middle","dy":3},"encoding":{"text":{"field":"country"}}},
{"width":488,"height":55,"view":{"fill":"#efefef","stroke":null},"data":{"values":[{"country":"Netherlands"}]},"mark":{"type":"text","font":"Liberation Sans","fontSize":40,"color":"#000","align":"center","baseline":"middle","dy":3},"encoding":{"text":{"field":"country"}}},
{"width":488,"height":55,"view":{"fill":"#efefef","stroke":null},"data":{"values":[{"country":"Poland"}]},"mark":{"type":"text","font":"Liberation Sans","fontSize":40,"color":"#000","align":"center","baseline":"middle","dy":3},"encoding":{"text":{"field":"country"}}},
{"width":488,"height":55,"view":{"fill":"#efefef","stroke":null},"data":{"values":[{"country":"Portugal"}]},"mark":{"type":"text","font":"Liberation Sans","fontSize":40,"color":"#000","align":"center","baseline":"middle","dy":3},"encoding":{"text":{"field":"country"}}},
{"width":488,"height":55,"view":{"fill":"#efefef","stroke":null},"data":{"values":[{"country":"Romania"}]},"mark":{"type":"text","font":"Liberation Sans","fontSize":40,"color":"#000","align":"center","baseline":"middle","dy":3},"encoding":{"text":{"field":"country"}}},
{"width":488,"height":55,"view":{"fill":"#efefef","stroke":null},"data":{"values":[{"country":"Slovak Republic"}]},"mark":{"type":"text","font":"Liberation Sans","fontSize":40,"color":"#000","align":"center","baseline":"middle","dy":3},"encoding":{"text":{"field":"country"}}},
{"width":488,"height":304,"data":{"name":"d"},"transform":[{"filter":"datum.country === 'Malta'"}],"mark":{"type":"line","color":"#1a85ff","strokeWidth":4},"encoding":{"x":{"field":"year","type":"quantitative","scale":{"domain":[2004.07,2022.98],"nice":false,"zero":false},"axis":{"title":null,"values":[2005,2010,2015,2020],"labels":false,"ticks":false,"domain":false}},"y":{"field":"value","type":"quantitative","scale":{"domain":[0.13,1.066],"nice":false,"zero":false},"axis":{"title":null,"values":[0.2,0.4,0.6,0.8,1],"labelExpr":"datum.value > 0.99 ? '1' : '.' + round(datum.value*10)"}}}},
{"width":488,"height":304,"data":{"name":"d"},"transform":[{"filter":"datum.country === 'Netherlands'"}],"mark":{"type":"line","color":"#1a85ff","strokeWidth":4},"encoding":{"x":{"field":"year","type":"quantitative","scale":{"domain":[2004.07,2022.98],"nice":false,"zero":false},"axis":{"title":null,"values":[2005,2010,2015,2020],"labels":false,"ticks":false,"domain":false}},"y":{"field":"value","type":"quantitative","scale":{"domain":[0.13,1.066],"nice":false,"zero":false},"axis":{"title":null,"values":[0.2,0.4,0.6,0.8,1],"labels":false,"ticks":false,"domain":false}}}},
{"width":488,"height":304,"data":{"name":"d"},"transform":[{"filter":"datum.country === 'Poland'"}],"mark":{"type":"line","color":"#1a85ff","strokeWidth":4},"encoding":{"x":{"field":"year","type":"quantitative","scale":{"domain":[2004.07,2022.98],"nice":false,"zero":false},"axis":{"title":null,"values":[2005,2010,2015,2020],"labels":false,"ticks":false,"domain":false}},"y":{"field":"value","type":"quantitative","scale":{"domain":[0.13,1.066],"nice":false,"zero":false},"axis":{"title":null,"values":[0.2,0.4,0.6,0.8,1],"labels":false,"ticks":false,"domain":false}}}},
{"width":488,"height":304,"data":{"name":"d"},"transform":[{"filter":"datum.country === 'Portugal'"}],"mark":{"type":"line","color":"#1a85ff","strokeWidth":4},"encoding":{"x":{"field":"year","type":"quantitative","scale":{"domain":[2004.07,2022.98],"nice":false,"zero":false},"axis":{"title":null,"values":[2005,2010,2015,2020],"format":"d"}},"y":{"field":"value","type":"quantitative","scale":{"domain":[0.13,1.066],"nice":false,"zero":false},"axis":{"title":null,"values":[0.2,0.4,0.6,0.8,1],"labels":false,"ticks":false,"domain":false}}}},
{"width":488,"height":304,"data":{"name":"d"},"transform":[{"filter":"datum.country === 'Romania'"}],"mark":{"type":"line","color":"#1a85ff","strokeWidth":4},"encoding":{"x":{"field":"year","type":"quantitative","scale":{"domain":[2004.07,2022.98],"nice":false,"zero":false},"axis":{"title":null,"values":[2005,2010,2015,2020],"format":"d"}},"y":{"field":"value","type":"quantitative","scale":{"domain":[0.13,1.066],"nice":false,"zero":false},"axis":{"title":null,"values":[0.2,0.4,0.6,0.8,1],"labels":false,"ticks":false,"domain":false}}}},
{"width":488,"height":304,"data":{"name":"d"},"transform":[{"filter":"datum.country === 'Slovak Republic'"}],"mark":{"type":"line","color":"#1a85ff","strokeWidth":4},"encoding":{"x":{"field":"year","type":"quantitative","scale":{"domain":[2004.07,2022.98],"nice":false,"zero":false},"axis":{"title":null,"values":[2005,2010,2015,2020],"format":"d"}},"y":{"field":"value","type":"quantitative","scale":{"domain":[0.13,1.066],"nice":false,"zero":false},"axis":{"title":null,"values":[0.2,0.4,0.6,0.8,1],"labels":false,"ticks":false,"domain":false}}}},
{"width":488,"height":130,"data":{"values":[{}]},"mark":"text","encoding":{"text":{"value":""}}},
{"width":488,"height":130,"data":{"values":[{}]},"mark":"text","encoding":{"text":{"value":""}}},
{"width":488,"height":130,"data":{"values":[{}]},"mark":"text","encoding":{"text":{"value":""}}},
{"width":488,"height":130,"data":{"values":[{}]},"mark":"text","encoding":{"text":{"value":""}}},
{"width":488,"height":130,"data":{"values":[{}]},"mark":"text","encoding":{"text":{"value":""}}},
{"width":488,"height":130,"data":{"values":[{}]},"mark":"text","encoding":{"text":{"value":""}}},
{"width":488,"height":55,"view":{"fill":"#efefef","stroke":null},"data":{"values":[{"country":"Slovenia"}]},"mark":{"type":"text","font":"Liberation Sans","fontSize":40,"color":"#000","align":"center","baseline":"middle","dy":3},"encoding":{"text":{"field":"country"}}},
{"width":488,"height":55,"view":{"fill":"#efefef","stroke":null},"data":{"values":[{"country":"Spain"}]},"mark":{"type":"text","font":"Liberation Sans","fontSize":40,"color":"#000","align":"center","baseline":"middle","dy":3},"encoding":{"text":{"field":"country"}}},
{"width":488,"height":55,"view":{"fill":"#efefef","stroke":null},"data":{"values":[{"country":"Sweden"}]},"mark":{"type":"text","font":"Liberation Sans","fontSize":40,"color":"#000","align":"center","baseline":"middle","dy":3},"encoding":{"text":{"field":"country"}}},
{"width":488,"height":55,"data":{"values":[{}]},"mark":"text","encoding":{"text":{"value":""}}},
{"width":488,"height":55,"data":{"values":[{}]},"mark":"text","encoding":{"text":{"value":""}}},
{"width":488,"height":55,"data":{"values":[{}]},"mark":"text","encoding":{"text":{"value":""}}},
{"width":488,"height":304,"data":{"name":"d"},"transform":[{"filter":"datum.country === 'Slovenia'"}],"mark":{"type":"line","color":"#1a85ff","strokeWidth":4},"encoding":{"x":{"field":"year","type":"quantitative","scale":{"domain":[2004.07,2022.98],"nice":false,"zero":false},"axis":{"title":null,"values":[2005,2010,2015,2020],"format":"d"}},"y":{"field":"value","type":"quantitative","scale":{"domain":[0.13,1.066],"nice":false,"zero":false},"axis":{"title":null,"values":[0.2,0.4,0.6,0.8,1],"labelExpr":"datum.value > 0.99 ? '1' : '.' + round(datum.value*10)"}}}},
{"width":488,"height":304,"data":{"name":"d"},"transform":[{"filter":"datum.country === 'Spain'"}],"mark":{"type":"line","color":"#1a85ff","strokeWidth":4},"encoding":{"x":{"field":"year","type":"quantitative","scale":{"domain":[2004.07,2022.98],"nice":false,"zero":false},"axis":{"title":null,"values":[2005,2010,2015,2020],"format":"d"}},"y":{"field":"value","type":"quantitative","scale":{"domain":[0.13,1.066],"nice":false,"zero":false},"axis":{"title":null,"values":[0.2,0.4,0.6,0.8,1],"labels":false,"ticks":false,"domain":false}}}},
{"width":488,"height":304,"data":{"name":"d"},"transform":[{"filter":"datum.country === 'Sweden'"}],"mark":{"type":"line","color":"#1a85ff","strokeWidth":4},"encoding":{"x":{"field":"year","type":"quantitative","scale":{"domain":[2004.07,2022.98],"nice":false,"zero":false},"axis":{"title":null,"values":[2005,2010,2015,2020],"format":"d"}},"y":{"field":"value","type":"quantitative","scale":{"domain":[0.13,1.066],"nice":false,"zero":false},"axis":{"title":null,"values":[0.2,0.4,0.6,0.8,1],"labels":false,"ticks":false,"domain":false}}}}
],
"config": {
"view": {"stroke": null},
"axis": {"grid": true, "gridColor": "#efefef", "gridDash": [53, 25], "gridWidth": 3.5, "gridOpacity": 1, "domainColor": "#000", "domainWidth": 2.7, "tickColor": "#000", "tickWidth": 2, "tickSize": 15, "labelFont": "Liberation Sans", "labelFontSize": 35, "labelColor": "#000", "labelPadding": 8, "labelFlush": false, "labelOverlap": false}
}
}
